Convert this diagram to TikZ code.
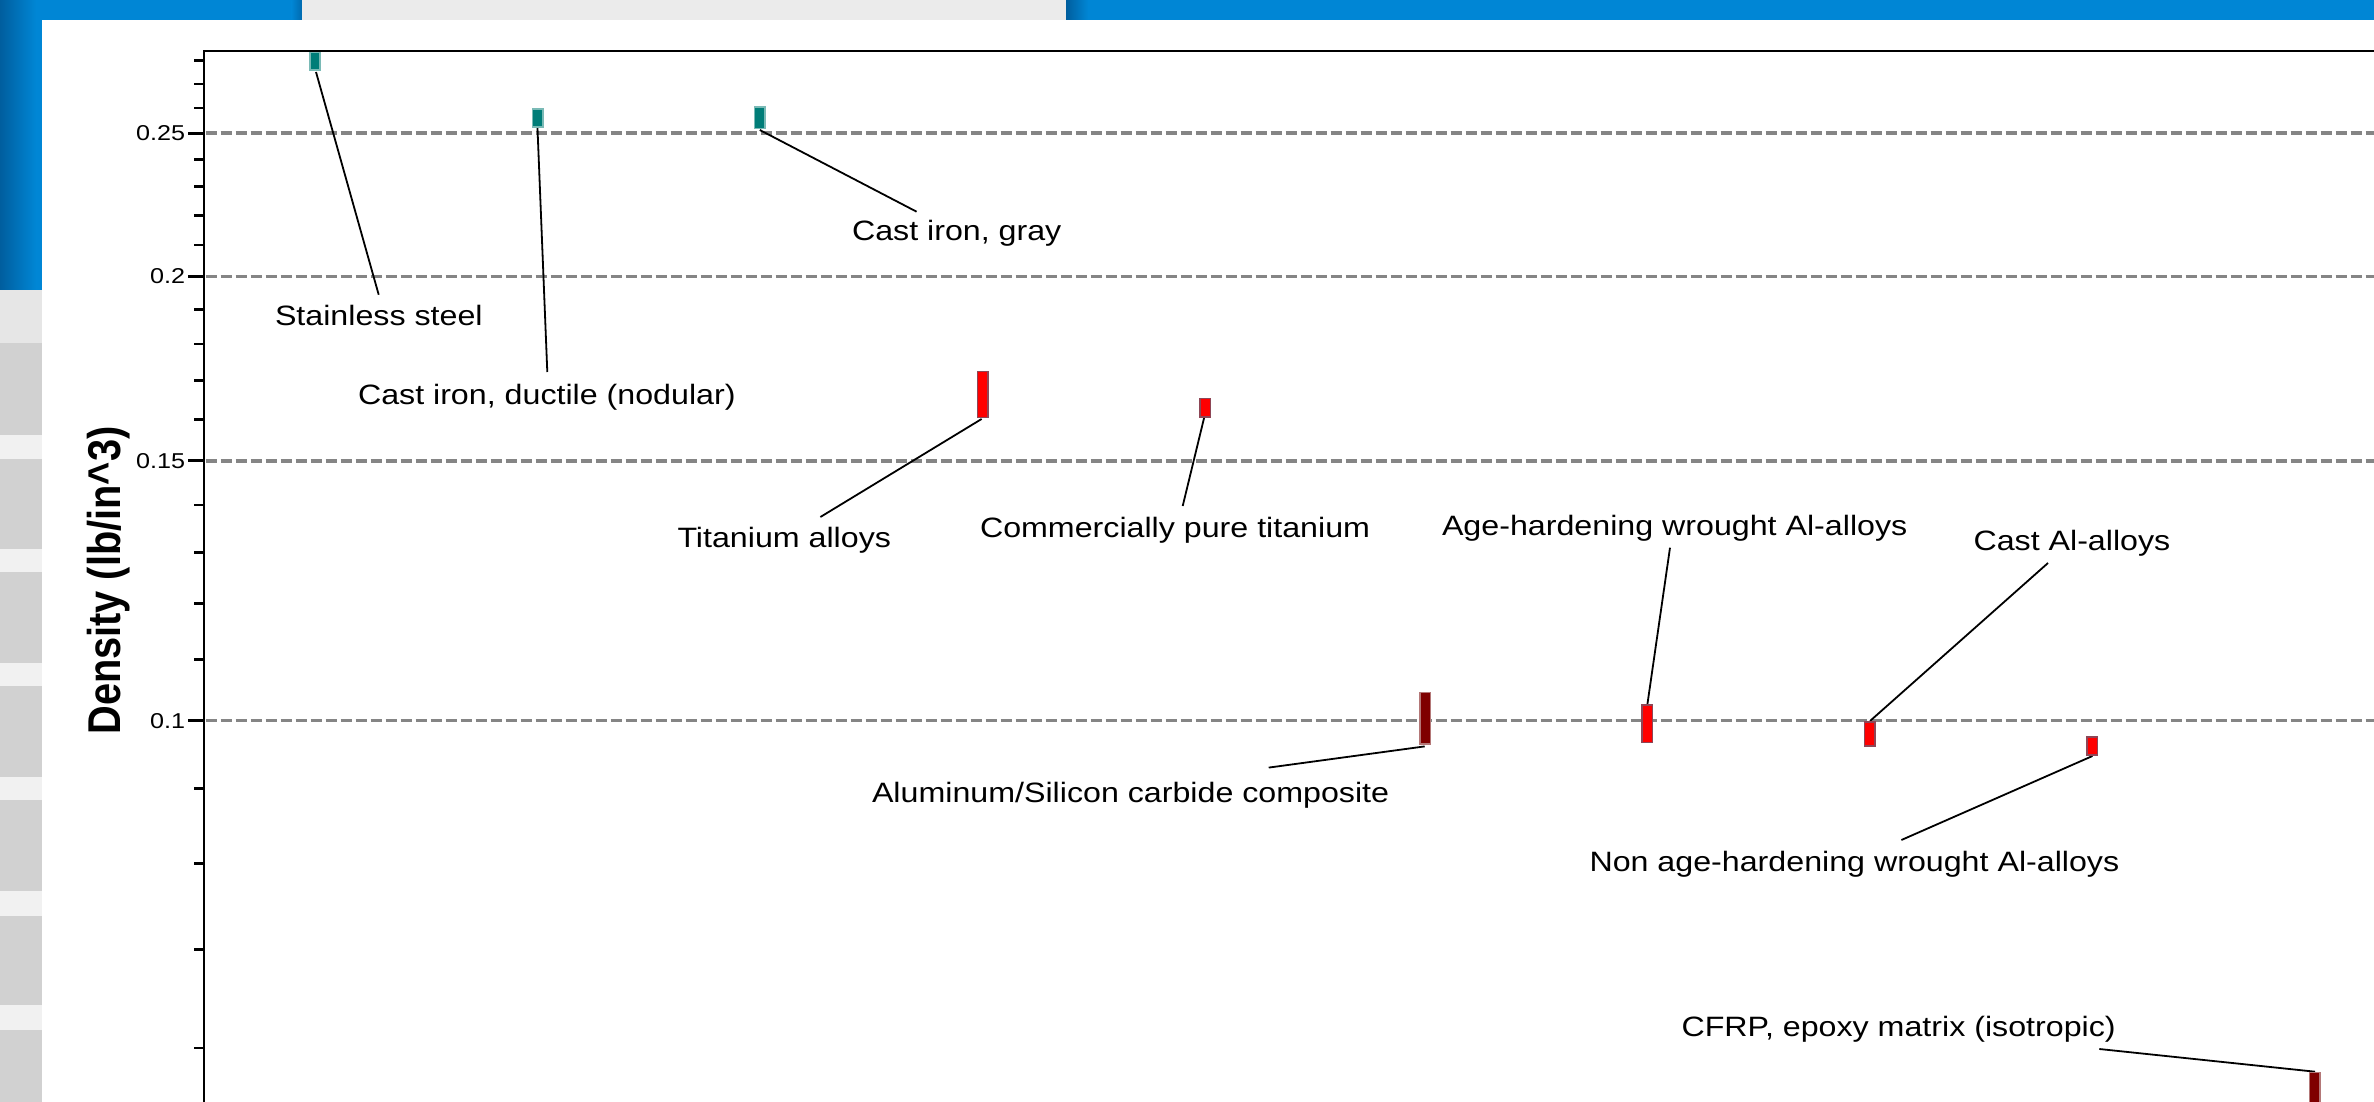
\documentclass[tikz,border=0pt]{standalone}
\usepackage{fontspec}
\setmainfont{Liberation Sans}
\newfontfamily\lblfont[FakeStretch=1.15]{Liberation Sans}
\newfontfamily\tickfont[FakeStretch=1.17]{Liberation Sans}
\newfontfamily\axfont[FakeStretch=0.864]{Liberation Sans}
\definecolor{blueMain}{HTML}{0086D5}
\definecolor{blueDark}{HTML}{005E9E}
\definecolor{topGrey}{HTML}{EBEBEB}
\definecolor{stripLight}{HTML}{E6E6E6}
\definecolor{stripDark}{HTML}{D1D1D1}
\definecolor{stripGap}{HTML}{F1F1F1}
\definecolor{gridGray}{HTML}{858585}
\definecolor{tealFill}{HTML}{007D78}
\definecolor{tealEdge}{HTML}{7ABAB6}
\definecolor{redEdge}{HTML}{8E4656}
\definecolor{maroonFill}{HTML}{7F0000}
\definecolor{maroonEdge}{HTML}{B47878}
\tikzset{
  lbl/.style={font=\lblfont\fontsize{14pt}{16pt}\selectfont, inner sep=0pt, outer sep=0pt, anchor=base west},
  ticklbl/.style={font=\tickfont\fontsize{10.75pt}{12pt}\selectfont, inner sep=0pt, anchor=base east},
  axlbl/.style={font=\axfont\bfseries\fontsize{23pt}{26pt}\selectfont, inner sep=0pt, anchor=base west, rotate=90},
  leader/.style={line width=0.9pt, black},
  gridline/.style={draw=gridGray, line width=1.8pt, dash pattern=on 5.5pt off 2pt},
  axisline/.style={line width=1.3pt, black},
  tickmark/.style={line width=1.35pt, black},
  bar/.style={minimum width=5.2pt, inner sep=0pt, outer sep=0pt, line width=0.8pt},
  tealbar/.style={bar, fill=tealFill, draw=tealEdge},
  redbar/.style={bar, fill=red, draw=redEdge},
  maroonbar/.style={bar, fill=maroonFill, draw=maroonEdge}
}
\begin{document}
\begin{tikzpicture}[x=0.5pt,y=-0.5pt]
\useasboundingbox (0,0) rectangle (2374,1102);
\clip (0,0) rectangle (2374,1102);
\fill[white] (0,0) rectangle (2374,1102);
% ---- frame of the slide ----
\shade[left color=blueDark, right color=blueMain] (0,0) rectangle (36,290);
\fill[blueMain] (35.5,0) rectangle (42,290);
\fill[blueMain] (35.5,0) rectangle (292,20);
\shade[left color=blueMain, right color=blueDark!70!blueMain] (291.5,0) rectangle (302,20);
\fill[topGrey] (302,0) rectangle (1066,20);
\shade[left color=blueDark, right color=blueMain] (1066,0) rectangle (1088,20);
\fill[blueMain] (1087.5,0) rectangle (2374,20);
\fill[stripLight] (0,290) rectangle (42,343);
\fill[stripGap] (0,343) rectangle (42,1102);
\foreach \a/\b in {343/435,459/549,572/663,686/777,800/891,916/1005,1030/1110}
  \fill[stripDark] (0,\a) rectangle (42,\b);
% ---- grid ----
\foreach \yy in {133.2,276.3,460.7,720.6}
  \draw[gridline] (205.5,\yy) -- (2380,\yy);
% ---- axes ----
\draw[axisline] (204,1110) -- (204,51) -- (2380,51);
\foreach \v in {0.06,0.07,0.08,0.09,0.11,0.12,0.13,0.14,0.16,0.17,0.18,0.19,0.21,0.22,0.23,0.24,0.26,0.27,0.28}
  \draw[tickmark] (194,{720.6-641.02*ln(10*\v)}) -- (204,{720.6-641.02*ln(10*\v)});
\foreach \yy in {133.2,276.3,460.7,720.6}
  \draw[tickmark] (188,\yy) -- (204,\yy);
\node[ticklbl] (t1) at (185.5,140.9) {0.25};
\node[ticklbl] (t2) at (185.5,284.0) {0.2};
\node[ticklbl] (t3) at (185.5,468.4) {0.15};
\node[ticklbl] (t4) at (185.5,728.3) {0.1};
\node[axlbl] (ylab) at (120,735) {Density (lb/in\textasciicircum 3)};
% ---- labels ----
\node[lbl] (l1) at (275,325) {Stainless steel};
\node[lbl] (l2) at (358,404.5) {Cast iron, ductile (nodular)};
\node[lbl] (l3) at (852,241) {Cast iron, gray};
\node[lbl] (l4) at (677.5,547) {Titanium alloys};
\node[lbl] (l5) at (980,537.3) {Commercially pure titanium};
\node[lbl] (l6) at (872,802) {Aluminum/Silicon carbide composite};
\node[lbl] (l7) at (1442,535.2) {Age-hardening wrought Al-alloys};
\node[lbl] (l8) at (1973.5,550.3) {Cast Al-alloys};
\node[lbl] (l9) at (1589.5,871) {Non age-hardening wrought Al-alloys};
\node[lbl] (l10) at (1681.5,1036.7) {CFRP, epoxy matrix (isotropic)};
% ---- leader ends ----
\coordinate (s1) at (316,72);   \coordinate (e1) at (378.7,294.7);
\coordinate (s2) at (537.3,123.3); \coordinate (e2) at (547.3,372);
\coordinate (s3) at (759.8,130); \coordinate (e3) at (916.6,211.7);
\coordinate (s4) at (981.6,419); \coordinate (e4) at (820.4,517);
\coordinate (s5) at (1206,410); \coordinate (e5) at (1182.7,506);
\coordinate (s6) at (1424.7,746.4); \coordinate (e6) at (1268.7,767.6);
\coordinate (s7) at (1647.3,705); \coordinate (e7) at (1670,547.7);
\coordinate (s8) at (1870,721); \coordinate (e8) at (2048,563);
\coordinate (s9) at (2092.5,756); \coordinate (e9) at (1901.4,840);
\coordinate (s10) at (2315,1071.7); \coordinate (e10) at (2099.3,1049);
\foreach \i in {1,...,10} \draw[leader] (s\i) -- (e\i);
% ---- bars ----
\node[tealbar, minimum height=8.85pt] (b1) at (315,61.35) {};
\node[tealbar, minimum height=8.9pt] (b2) at (537.5,118) {};
\node[tealbar, minimum height=10.95pt] (b3) at (759.5,117.75) {};
\node[redbar, minimum height=23pt] (b4) at (982.6,394.5) {};
\node[redbar, minimum height=9.2pt] (b5) at (1205.3,407.7) {};
\node[maroonbar, minimum height=25.85pt] (b6) at (1425.2,718.35) {};
\node[redbar, minimum height=18.7pt] (b7) at (1647.2,723.8) {};
\node[redbar, minimum height=11.9pt] (b8) at (1869.7,734) {};
\node[redbar, minimum height=9.2pt] (b9) at (2092.2,746) {};
\node[maroonbar, minimum height=20.85pt] (b10) at (2314.5,1093.35) {};
\end{tikzpicture}
\end{document}
